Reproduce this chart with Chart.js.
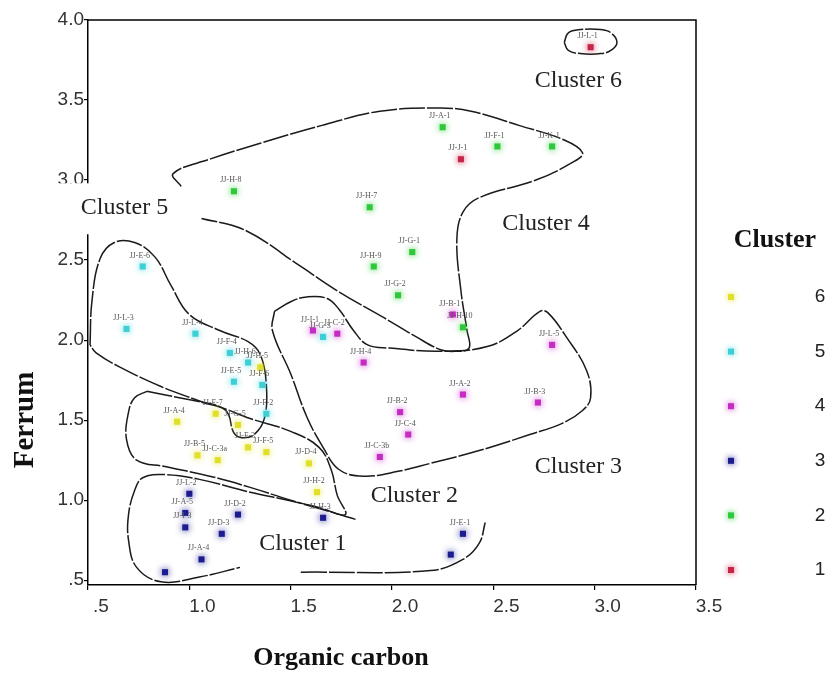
<!DOCTYPE html>
<html>
<head>
<meta charset="utf-8">
<script src="https://cdn.jsdelivr.net/npm/chart.js@4/dist/chart.umd.min.js"></script>
<style>
  html, body { margin: 0; padding: 0; background: #fff; }
  #wrap { width: 831px; height: 673px; }
</style>
</head>
<body>
<div id="wrap"><canvas id="chart" width="831" height="673"></canvas></div>
<script>
// ---- Samples: organic carbon (x) and ferrum (y), grouped by cluster ----
const c1Carbon = [2.98, 2.34];
const c1Ferrum = [3.83, 3.13];
const c1Names  = ['JJ-L-1', 'JJ-J-1'];

const c2Carbon = [2.25, 2.52, 2.79, 1.22, 1.89, 2.10, 1.91, 2.03, 2.35];
const c2Ferrum = [3.33, 3.21, 3.21, 2.93, 2.83, 2.55, 2.46, 2.28, 2.08];
const c2Names  = ['JJ-A-1', 'JJ-F-1', 'JJ-K-1', 'JJ-H-8', 'JJ-H-7', 'JJ-G-1', 'JJ-H-9', 'JJ-G-2', 'JJ-H-10'];

const c3Carbon = [1.00, 0.98, 0.98, 1.24, 1.16, 1.06, 0.88, 1.66, 2.35, 2.29];
const c3Ferrum = [1.04, 0.92, 0.83, 0.91, 0.79, 0.63, 0.55, 0.89, 0.79, 0.66];
const c3Names  = ['JJ-L-2', 'JJ-A-5', 'JJ-I-3', 'JJ-D-2', 'JJ-D-3', 'JJ-A-4', '', 'JJ-H-3', 'JJ-E-1', ''];

const c4Carbon = [2.30, 1.61, 1.73, 1.86, 2.79, 2.35, 2.72, 2.04, 2.08, 1.94];
const c4Ferrum = [2.16, 2.06, 2.04, 1.86, 1.97, 1.66, 1.61, 1.55, 1.41, 1.27];
const c4Names  = ['JJ-B-1', 'JJ-I-1', 'JJ-C-2', 'JJ-H-4', 'JJ-L-5', 'JJ-A-2', 'JJ-B-3', 'JJ-B-2', 'JJ-C-4', 'JJ-C-3b'];

const c5Carbon = [0.77, 0.69, 1.03, 1.20, 1.29, 1.22, 1.36, 1.38, 1.66];
const c5Ferrum = [2.46, 2.07, 2.04, 1.92, 1.86, 1.74, 1.72, 1.54, 2.02];
const c5Names  = ['JJ-E-6', 'JJ-L-3', 'JJ-L-4', 'JJ-F-4', 'JJ-H-6', 'JJ-E-5', 'JJ-F-6', 'JJ-F-2', 'JJ-G-3'];

const c6Carbon = [1.35, 0.94, 1.13, 1.24, 1.04, 1.14, 1.29, 1.38, 1.59, 1.63];
const c6Ferrum = [1.83, 1.49, 1.54, 1.47, 1.28, 1.25, 1.33, 1.30, 1.23, 1.05];
const c6Names  = ['JJ-H-5', 'JJ-A-4', 'JJ-F-7', 'JJ-G-5', 'JJ-B-5', 'JJ-C-3a', 'JJ-F-3', 'JJ-F-5', 'JJ-D-4', 'JJ-H-2'];

// ---- Axis ticks ----
const xTickValues = [0.5, 1.0, 1.5, 2.0, 2.5, 3.0, 3.5];
const xTickText   = ['.5', '1.0', '1.5', '2.0', '2.5', '3.0', '3.5'];
const yTickValues = [0.5, 1.0, 1.5, 2.0, 2.5, 3.0, 3.5, 4.0];
const yTickText   = ['.5', '1.0', '1.5', '2.0', '2.5', '3.0', '3.5', '4.0'];

// ---- Hand-drawn group boundaries, in data units (carbon, ferrum) ----
const ring6 = [[2.85,3.86],[2.87,3.92],[2.93,3.94],[3.03,3.94],[3.08,3.92],[3.11,3.86],[3.08,3.81],[3.03,3.79],[2.93,3.79],[2.87,3.81],[2.85,3.86]];
const ring4 = [[0.96,2.96],[0.92,3.04],[1.10,3.13],[1.35,3.23],[1.65,3.34],[1.94,3.43],[2.24,3.45],[2.39,3.43],[2.63,3.34],[2.85,3.25],[2.94,3.17],[2.89,3.11],[2.71,3.00],[2.43,2.89],[2.35,2.80],[2.32,2.63],[2.34,2.31],[2.37,2.06],[2.38,1.95],[2.31,1.93],[2.24,1.94],[2.12,2.02],[1.96,2.14],[1.74,2.30],[1.55,2.46],[1.27,2.69],[1.06,2.76]];
const ring3 = [[1.42,2.18],[1.50,2.24],[1.58,2.27],[1.68,2.26],[1.74,2.19],[1.81,2.06],[1.88,1.97],[1.99,1.95],[2.24,1.93],[2.47,1.96],[2.62,2.06],[2.73,2.18],[2.77,2.17],[2.86,2.02],[2.96,1.81],[2.98,1.64],[2.94,1.56],[2.84,1.48],[2.68,1.41],[2.43,1.31],[2.19,1.23],[2.03,1.18],[1.86,1.15],[1.74,1.19],[1.66,1.33],[1.58,1.52],[1.50,1.79],[1.41,2.06],[1.42,2.18]];
const ring5 = [[0.51,1.97],[0.52,2.25],[0.56,2.51],[0.63,2.61],[0.73,2.61],[0.83,2.52],[0.91,2.34],[1.00,2.16],[1.15,2.06],[1.29,1.99],[1.35,1.91],[1.38,1.72],[1.37,1.51],[1.32,1.41],[1.26,1.39],[1.22,1.42],[1.18,1.56],[1.05,1.62],[0.86,1.71],[0.66,1.83],[0.54,1.92],[0.51,1.97]];
const ring2 = [[0.79,1.68],[0.95,1.64],[1.13,1.59],[1.30,1.51],[1.50,1.43],[1.64,1.33],[1.70,1.19],[1.73,1.03],[1.77,0.91],[1.65,0.95],[1.50,1.00],[1.30,1.08],[1.10,1.15],[0.88,1.21],[0.74,1.25],[0.69,1.38],[0.70,1.55],[0.73,1.64],[0.79,1.68]];
const ring1a = [[1.82,0.88],[1.55,0.98],[1.30,1.05],[1.05,1.13],[0.88,1.16],[0.77,1.14],[0.73,1.06],[0.70,0.91],[0.70,0.75],[0.74,0.58],[0.86,0.49],[1.05,0.52],[1.25,0.58]];
const ring1b = [[1.55,0.55],[2.19,0.56],[2.35,0.63],[2.43,0.73],[2.46,0.86]];

// ---- Group captions ----
const captionText   = ['Cluster 6', 'Cluster 4', 'Cluster 5', 'Cluster 3', 'Cluster 2', 'Cluster 1'];
const captionCarbon = [2.92, 2.76, 0.68, 2.92, 2.11, 1.56];
const captionFerrum = [3.62, 2.73, 2.83, 1.21, 1.03, 0.73];

// ---- Styles ----
const SERIF = '"Liberation Serif", "Times New Roman", serif';
const SANS = '"Liberation Sans", Arial, sans-serif';
const clusterColor = { '1': '#c82448', '2': '#2fc83a', '3': '#1c1c8e', '4': '#c42cc4', '5': '#3ccfd6', '6': '#e0e02a' };
const legendOrder = ['6', '5', '4', '3', '2', '1'];

const groups = [
  { id: '1', carbon: c1Carbon, ferrum: c1Ferrum, names: c1Names },
  { id: '2', carbon: c2Carbon, ferrum: c2Ferrum, names: c2Names },
  { id: '3', carbon: c3Carbon, ferrum: c3Ferrum, names: c3Names },
  { id: '4', carbon: c4Carbon, ferrum: c4Ferrum, names: c4Names },
  { id: '5', carbon: c5Carbon, ferrum: c5Ferrum, names: c5Names },
  { id: '6', carbon: c6Carbon, ferrum: c6Ferrum, names: c6Names }
];

const pointSets = groups.map(g => ({
  label: 'Cluster ' + g.id,
  clusterId: g.id,
  names: g.names,
  isPoints: true,
  data: g.carbon.map((x, i) => ({ x, y: g.ferrum[i] })),
  showLine: false,
  pointStyle: 'rect',
  pointRadius: 4.3,
  pointBorderWidth: 0,
  backgroundColor: clusterColor[g.id],
  borderColor: clusterColor[g.id],
  order: 0
}));

const outlineSets = [ring6, ring4, ring3, ring5, ring2, ring1a, ring1b].map(r => ({
  data: r.map(([x, y]) => ({ x, y })),
  showLine: true,
  pointRadius: 0,
  borderColor: '#1a1a1a',
  borderWidth: 1.5,
  borderDash: [26, 2],
  tension: 0.4,
  fill: false,
  clip: false,
  order: 1
}));

const decorations = {
  id: 'decorations',
  beforeDatasetsDraw(chart) {
    const { ctx, chartArea: a } = chart;
    ctx.save();
    ctx.strokeStyle = '#000';
    ctx.lineWidth = 1.5;
    ctx.beginPath();
    ctx.moveTo(a.left, a.top);
    ctx.lineTo(a.right, a.top);
    ctx.lineTo(a.right, a.bottom);
    ctx.stroke();
    ctx.restore();
  },
  beforeDatasetDraw(chart, args) {
    const ds = chart.data.datasets[args.index];
    if (ds.isPoints) {
      chart.ctx.save();
      chart.ctx.shadowColor = ds.backgroundColor;
      chart.ctx.shadowBlur = 7;
    }
  },
  afterDatasetDraw(chart, args) {
    const ds = chart.data.datasets[args.index];
    if (ds.isPoints) chart.ctx.restore();
  },
  afterDraw(chart) {
    const { ctx, scales } = chart;
    const xs = scales.x, ys = scales.y;
    ctx.save();

    // sample names beside each marker
    ctx.font = '8px ' + SERIF;
    ctx.fillStyle = '#555';
    ctx.textAlign = 'center';
    ctx.textBaseline = 'middle';
    chart.data.datasets.forEach((ds, di) => {
      if (!ds.isPoints) return;
      chart.getDatasetMeta(di).data.forEach((pt, i) => {
        const name = ds.names[i];
        if (name) ctx.fillText(name, pt.x - 3, pt.y - 11);
      });
    });

    // group captions
    ctx.font = '24px ' + SERIF;
    ctx.fillStyle = '#222';
    captionText.forEach((t, i) => {
      const px = xs.getPixelForValue(captionCarbon[i]);
      const py = ys.getPixelForValue(captionFerrum[i]);
      if (t === 'Cluster 5') {
        ctx.fillStyle = '#fff';
        ctx.fillRect(px - 70, py - 24, 117, 51);
        ctx.fillStyle = '#222';
      }
      ctx.fillText(t, px, py);
    });

    // axis titles
    ctx.font = 'bold 26px ' + SERIF;
    ctx.fillStyle = '#111';
    ctx.fillText('Organic carbon', 341, 658);
    ctx.save();
    ctx.translate(26, 420);
    ctx.rotate(-Math.PI / 2);
    ctx.font = 'bold 29px ' + SERIF;
    ctx.fillText('Ferrum', 0, 0);
    ctx.restore();

    // legend
    ctx.font = 'bold 26px ' + SERIF;
    ctx.fillText('Cluster', 775, 240);
    ctx.font = '19px ' + SANS;
    ctx.fillStyle = '#222';
    legendOrder.forEach((id, i) => {
      const y = 297 + i * 54.6;
      ctx.save();
      ctx.shadowColor = clusterColor[id];
      ctx.shadowBlur = 6;
      ctx.fillStyle = clusterColor[id];
      ctx.fillRect(728, y - 3, 6, 6);
      ctx.restore();
      ctx.fillText(id, 820, y);
    });
    ctx.restore();
  }
};

new Chart(document.getElementById('chart'), {
  type: 'scatter',
  data: { datasets: [...pointSets, ...outlineSets] },
  options: {
    responsive: false,
    animation: false,
    devicePixelRatio: 1,
    layout: { padding: { top: 20, right: 135, left: 0, bottom: 0 } },
    plugins: { legend: { display: false }, tooltip: { enabled: false } },
    scales: {
      x: {
        type: 'linear',
        min: 0.5,
        max: 3.5,
        afterBuildTicks: s => { s.ticks = xTickValues.map(v => ({ value: v })); },
        afterFit: s => { s.height = 88; },
        grid: { drawOnChartArea: false, drawTicks: true, tickLength: 5, color: '#000', lineWidth: 1.2 },
        border: { display: true, color: '#000', width: 1.5 },
        ticks: {
          padding: 5,
          labelOffset: 13,
          color: '#333',
          font: { family: SANS, size: 19 },
          callback: (v, i) => xTickText[i]
        }
      },
      y: {
        type: 'linear',
        min: 0.47,
        max: 4.0,
        afterBuildTicks: s => { s.ticks = yTickValues.map(v => ({ value: v })); },
        afterFit: s => { s.width = 88; },
        grid: { drawOnChartArea: false, drawTicks: true, tickLength: 4, color: '#000', lineWidth: 1.2 },
        border: { display: true, color: '#000', width: 1.5 },
        ticks: {
          padding: 0,
          color: '#333',
          font: { family: SANS, size: 19 },
          callback: (v, i) => yTickText[i]
        }
      }
    }
  },
  plugins: [decorations]
});
</script>
</body>
</html>
